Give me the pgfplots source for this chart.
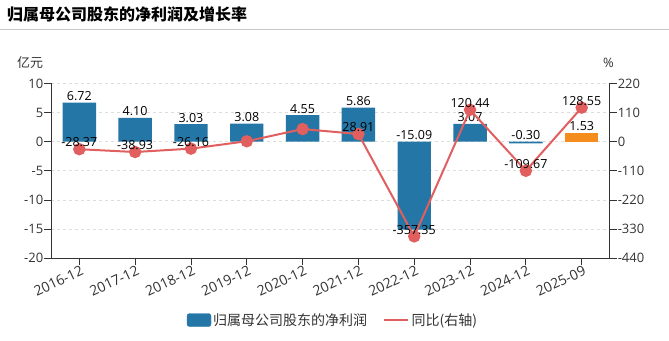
\documentclass[border=0pt]{standalone}
\usepackage{pgfplots}
\pgfplotsset{compat=1.18}
\usepackage{fontspec}
\setmainfont{Open Sans}
\newfontfamily\cjk{Noto Sans CJK SC}
\definecolor{barblue}{RGB}{35,118,165}
\definecolor{barorange}{RGB}{245,140,30}
\definecolor{linered}{RGB}{225,95,95}
\definecolor{txt}{RGB}{51,51,51}
\definecolor{gridc}{RGB}{221,221,221}
\pgfplotsset{/pgf/number format/assume math mode=true}
\pgfplotsset{
  common/.style={
    at={(51.4pt,81.7pt)}, anchor=south west, scale only axis,
    width=558.2pt, height=174.9pt,
    xmin=-0.5, xmax=9.5,
    tick align=outside, major tick length=7pt,
    axis line style={txt, line width=0.9pt},
    tick style={txt, line width=0.9pt},
    tick label style={font=\fontsize{13}{15}\selectfont, text=txt},
    yticklabel style={inner sep=1pt},
    clip=false,
  }
}
\begin{document}
\begin{tikzpicture}[x=1pt,y=1pt]
\path[use as bounding box] (0,0) rectangle (669,340);
\node[anchor=west, font=\cjk\bfseries\fontsize{16}{18}\selectfont, text=black, inner sep=0pt] at (7,325.5) {归属母公司股东的净利润及增长率};
\draw[gray!45, line width=1pt] (0,310.5) -- (669,310.5);
\node[font=\cjk\fontsize{13}{15}\selectfont, text=txt] at (30,277.5) {亿元};
\node[font=\fontsize{13}{15}\selectfont, text=txt] at (608.5,277.5) {\%};

\begin{axis}[common,
  ymin=-20, ymax=10, ytick={-20,-15,...,10},
  axis x line*=bottom, axis y line*=left,
  xtick={0,...,9},
  xticklabels={2016-12,2017-12,2018-12,2019-12,2020-12,2021-12,2022-12,2023-12,2024-12,2025-09},
  xticklabel style={rotate=25, anchor=north east, inner sep=1pt, xshift=2pt, yshift=1pt,
    font=\fontsize{14}{16}\selectfont},
  ymajorgrids, grid style={gridc, dashed, line width=0.8pt},
  nodes near coords style={font=\fontsize{12.5}{14}\selectfont, text=black, inner sep=1.5pt},
]
\addplot[ybar, bar width=33.4pt, fill=barblue, draw=none]
  coordinates {(0,6.72)(1,4.10)(2,3.03)(3,3.08)(4,4.55)(5,5.86)(6,-15.09)(7,3.07)(8,-0.30)};
\addplot[ybar, bar width=33.4pt, fill=barorange, draw=none]
  coordinates {(9,1.53)};
\addplot[draw=none, mark=none, point meta=explicit,
  nodes near coords={\pgfmathprintnumber[fixed,fixed zerofill,precision=2]{\pgfplotspointmeta}},
  nodes near coords align={above}]
  coordinates {(0,6.72)[6.72] (1,4.10)[4.10] (2,3.03)[3.03] (3,3.08)[3.08] (4,4.55)[4.55]
               (5,5.86)[5.86] (6,0)[-15.09] (7,3.07)[3.07] (8,0)[-0.30] (9,1.53)[1.53]};
\end{axis}

\begin{axis}[common,
  ymin=-440, ymax=220, ytick={-440,-330,...,220},
  axis x line=none, axis y line*=right,
  nodes near coords style={font=\fontsize{12.5}{14}\selectfont, text=black, inner sep=2pt},
  legend style={at={(0.5045,-0.353)}, anchor=center, draw=none, fill=none,
    font=\cjk\fontsize{14}{16}\selectfont, text=txt, legend columns=2,
    /tikz/every even column/.append style={column sep=14pt}},
]
\addlegendimage{legend image code/.code={\fill[barblue, rounded corners=2.5pt] (0pt,-6.5pt) rectangle (24pt,6.5pt);}}
\addlegendentry{归属母公司股东的净利润}
\addplot[linered, line width=2pt, mark=*, mark size=5.2pt, mark options={fill=linered, draw=linered},
  legend image code/.code={\draw[linered, line width=2.5pt] (0pt,0pt) -- (24pt,0pt);}]
  coordinates {(0,-28.37)(1,-38.93)(2,-26.16)(3,1.65)(4,47.73)(5,28.91)(6,-357.35)(7,120.44)(8,-109.67)(9,128.55)};
\addlegendentry{同比(右轴)}
\addplot[draw=none, mark=none, point meta=explicit, forget plot,
  nodes near coords={\pgfmathprintnumber[fixed,fixed zerofill,precision=2]{\pgfplotspointmeta}},
  nodes near coords align={above}]
  coordinates {(0,-28.37)[-28.37] (1,-38.93)[-38.93] (2,-26.16)[-26.16] (5,28.91)[28.91]
               (6,-357.35)[-357.35] (7,120.44)[120.44] (8,-109.67)[-109.67] (9,128.55)[128.55]};
\end{axis}
\end{tikzpicture}
\end{document}
